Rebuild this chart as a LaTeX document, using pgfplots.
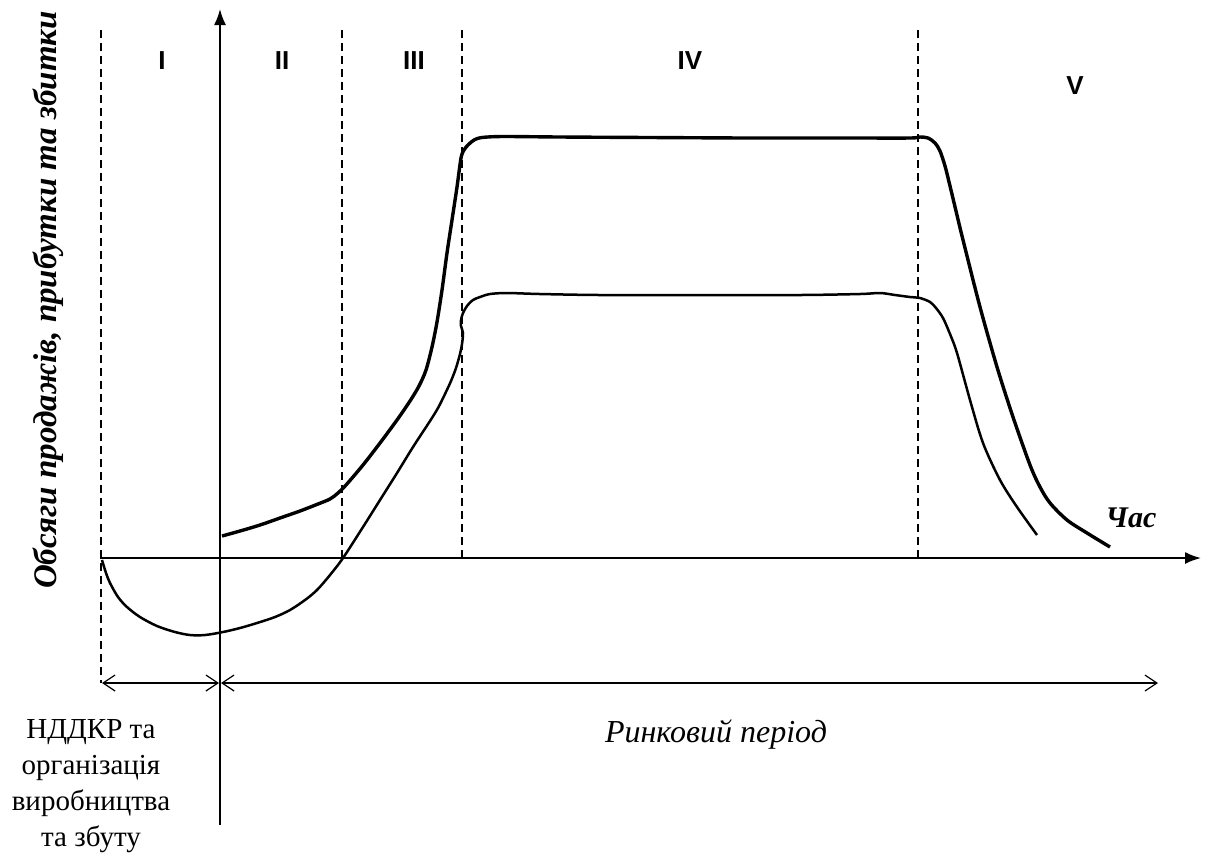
\documentclass[border=0pt]{standalone}
\usepackage{fontspec}
\setmainfont{Liberation Serif}
\newfontfamily\arialfont{Liberation Sans}
\usepackage{pgfplots}
\pgfplotsset{compat=1.18}
\usetikzlibrary{arrows.meta}
\begin{document}
\begin{tikzpicture}
\begin{axis}[
  name=ax,
  scale only axis, width=604.5pt, height=429.5pt,
  xmin=0, xmax=1209, ymin=0, ymax=859, y dir=reverse,
  hide axis, clip=false,
]
% dashed phase lines
\draw[line width=0.75pt, dash pattern=on 4pt off 2.5pt] (axis cs:101,30) -- (axis cs:101,683);
\draw[line width=0.75pt, dash pattern=on 4pt off 2.5pt] (axis cs:342,30) -- (axis cs:342,558);
\draw[line width=0.75pt, dash pattern=on 4pt off 2.5pt] (axis cs:462,30) -- (axis cs:462,558);
\draw[line width=0.75pt, dash pattern=on 4pt off 2.5pt] (axis cs:918,30) -- (axis cs:918,558);
% axes
\draw[line width=0.9pt, -{Latex[length=8pt,width=6pt]}] (axis cs:100,558) -- (axis cs:1201,558);
\draw[line width=0.9pt, -{Latex[length=8pt,width=6pt]}] (axis cs:220,825) -- (axis cs:220,9);
% period arrows
\draw[line width=0.6pt, {Straight Barb[length=6pt,width=8pt]}-{Straight Barb[length=6pt,width=8pt]}] (axis cs:102,683) -- (axis cs:219,683);
\draw[line width=0.6pt, {Straight Barb[length=6pt,width=8pt]}-{Straight Barb[length=6pt,width=8pt]}] (axis cs:221,683) -- (axis cs:1158,683);
% upper curve (sales)
\addplot[line width=1.7pt, smooth, black] coordinates {
(222,536) (240,531) (260,525) (280,518) (300,511) (318,504) (330,499) (338,493) (346,485) (363,465) (380,443) (397,420) (410,401) (419,386) (426,370) (432,347) (437,322) (442,290) (447,253) (452,220) (457,187) (461,158) (464,150) (468,145) (474,140) (482,137.5) (503,136.5) (560,137) (650,137.5) (750,138) (850,138) (910,138) (920,137) (928,138) (935,143) (940,151) (945,166) (950,186) (956,211) (963,240) (980,307) (997,367) (1013,417) (1030,465) (1040,487) (1050,503) (1067,520) (1087,533) (1110,547)
};
% lower curve (profit)
\addplot[line width=1.25pt, smooth, black] coordinates {
(102,560) (106,573) (110,583) (118,597) (127,607) (140,617) (157,626) (175,632) (190,635) (205,635) (223,632) (240,628) (257,623) (275,617) (290,610) (305,600) (317,590) (330,575) (343,558) (363,527) (380,500) (397,473) (413,447) (430,421) (438,408) (445,394) (451,381) (456,368) (460,354) (462,344) (463,333) (461,326) (461,320) (463,313) (467,306) (473,300) (480,297) (490,294) (507,293) (540,294) (600,295) (700,295) (800,295) (860,294) (880,293) (895,295) (910,297) (920,298) (930,302) (936,308) (943,318) (950,334) (957,353) (970,400) (983,443) (1000,480) (1017,507) (1037,535)
};
% phase labels
\node[font=\arialfont\bfseries\fontsize{13}{15}\selectfont] at (axis cs:162,61) {I};
\node[font=\arialfont\bfseries\fontsize{13}{15}\selectfont] at (axis cs:282,61) {II};
\node[font=\arialfont\bfseries\fontsize{13}{15}\selectfont] at (axis cs:414,61) {III};
\node[font=\arialfont\bfseries\fontsize{13}{15}\selectfont] at (axis cs:690,61) {IV};
\node[font=\arialfont\bfseries\fontsize{13}{15}\selectfont] at (axis cs:1075,86) {V};
% texts
\node[font=\bfseries\itshape\fontsize{15}{18}\selectfont, anchor=base] at (axis cs:1131,527) {Час};
\node[font=\itshape\fontsize{16}{19}\selectfont, anchor=base] at (axis cs:716,742) {Ринковий період};
\node[font=\fontsize{14.5}{18}\selectfont, align=center, inner sep=0pt] at (axis cs:91,786) {НДДКР та\\організація\\виробництва\\та збуту};
\node[rotate=90, font=\bfseries\itshape\fontsize{16.5}{19}\selectfont, anchor=base] at (axis cs:56,300) {Обсяги продажів, прибутки та збитки};
\end{axis}
\pgfresetboundingbox
\useasboundingbox (ax.south west) rectangle (ax.north east);
\end{tikzpicture}
\end{document}
